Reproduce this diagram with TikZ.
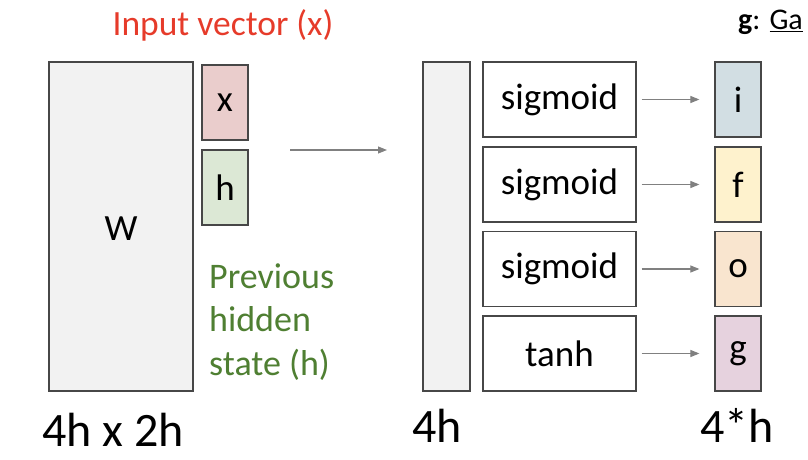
\documentclass[tikz,border=0pt]{standalone}
\usepackage{fontspec}
\setmainfont{Carlito}
\usetikzlibrary{arrows.meta}
\definecolor{boxline}{HTML}{474747}
\definecolor{wfill}{HTML}{F2F2F2}
\definecolor{xfill}{HTML}{EACDCC}
\definecolor{hfill}{HTML}{DCE8D5}
\definecolor{ifill}{HTML}{D2DEE3}
\definecolor{ffill}{HTML}{FEF2CD}
\definecolor{ofill}{HTML}{F9E5CF}
\definecolor{gfill}{HTML}{E6D2DE}
\definecolor{redtxt}{HTML}{E63B2A}
\definecolor{greentxt}{HTML}{4F7F32}
\definecolor{arrowgray}{HTML}{808080}
\tikzset{
  bx/.style={draw=boxline, line width=1.2pt, inner sep=0pt, anchor=center},
  mid/.style={font=\fontsize{37}{42}\selectfont},
  big/.style={font=\fontsize{48}{52}\selectfont, inner sep=0pt},
  conn/.style={draw=arrowgray, line width=1.1pt, -{Triangle[length=9pt,width=7pt]}},
}
\begin{document}
\begin{tikzpicture}[x=1pt,y=-1pt]
\useasboundingbox (0,0) rectangle (808,460);
% left matrix and vectors
\node[bx, fill=wfill, minimum width=144pt, minimum height=329pt, mid] (W) at (121,226.5) {};
\node[mid] (Wl) at (121,229) {W};
\node[bx, fill=xfill, minimum width=46pt, minimum height=75pt, mid] (x) at (225,102.5) {x};
\node[bx, fill=hfill, minimum width=46pt, minimum height=75pt, mid] (h) at (225,187.5) {h};
\node[text=redtxt, inner sep=0pt, font=\fontsize{35.5}{40}\selectfont] (inp) at (223,25) {Input vector (x)};
\node[text=greentxt, inner sep=0pt, anchor=base west, align=left,
  font=\fontsize{36}{43.5}\selectfont] (prev) at (209,375) {Previous\\hidden\\state (h)};
\node[big, anchor=base] (lbl1) at (113,446) {4h x 2h};
% middle column
\coordinate (a1) at (290,150);
\coordinate (a2) at (387,150);
\draw[conn] (a1) -- (a2);
\node[bx, fill=wfill, minimum width=47pt, minimum height=329pt] (col) at (446.5,226.5) {};
\node[big, anchor=base] (lbl2) at (437,442) {4h};
% activation boxes
\node[bx, minimum width=153pt, minimum height=75pt, mid] (s1) at (559.5,99.5) {sigmoid};
\node[bx, minimum width=153pt, minimum height=75pt, mid] (s2) at (559.5,184.5) {sigmoid};
\node[bx, minimum width=153pt, minimum height=75pt, mid] (s3) at (559.5,269) {sigmoid};
\node[bx, minimum width=153pt, minimum height=75pt, mid] (s4) at (559.5,353.5) {tanh};
% gates
\node[bx, fill=ifill, minimum width=46pt, minimum height=75pt, mid] (gi) at (738,99.5) {i};
\node[bx, fill=ffill, minimum width=46pt, minimum height=75pt, mid] (gf) at (738,184.5) {f};
\node[bx, fill=ofill, minimum width=46pt, minimum height=75pt, mid] (go) at (738,269) {o};
\node[bx, fill=gfill, minimum width=46pt, minimum height=75pt, mid] (gg) at (738,353.5) {g};
\draw[conn] ([xshift=5pt]s1.east) -- ([xshift=-15pt]gi.west);
\draw[conn] ([xshift=5pt]s2.east) -- ([xshift=-15pt]gf.west);
\draw[conn] ([xshift=5pt]s3.east) -- ([xshift=-15pt]go.west);
\draw[conn] ([xshift=5pt]s4.east) -- ([xshift=-15pt]gg.west);
\node[big, anchor=base] (lbl3) at (737,442) {4*h};
\node[anchor=base west, inner sep=0pt, font=\fontsize{30}{34}\selectfont] (note) at (738,30) {\textbf{g}: \underline{Ga}};
\end{tikzpicture}
\end{document}
